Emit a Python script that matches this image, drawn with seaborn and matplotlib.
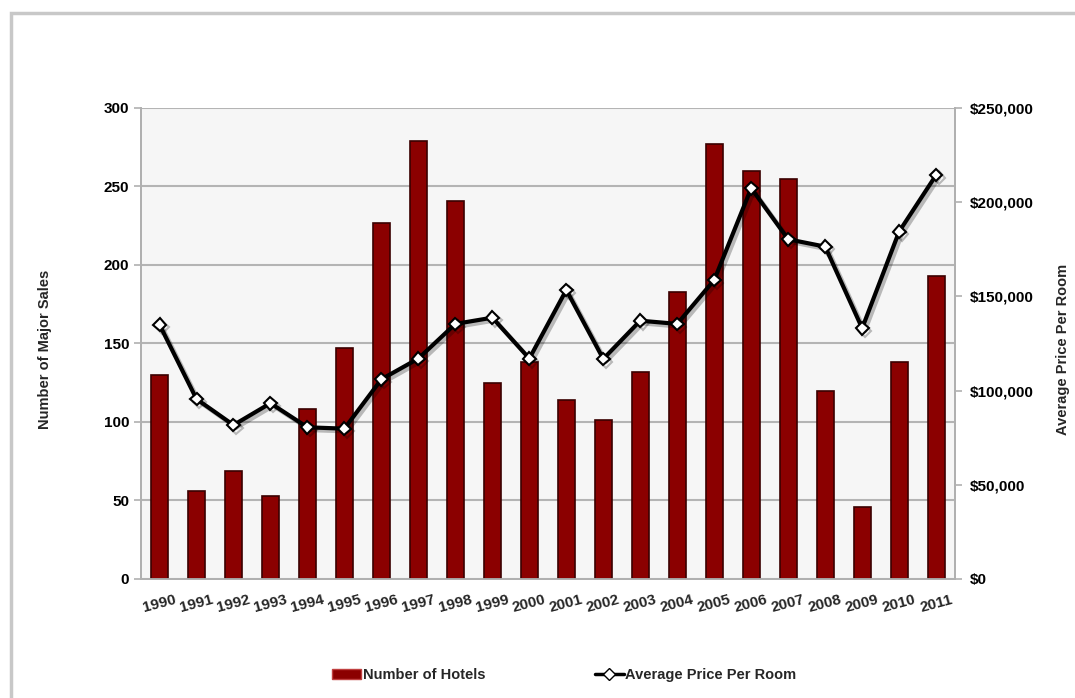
import matplotlib
matplotlib.use("Agg")
import matplotlib.pyplot as plt
import matplotlib.patheffects as pe
from matplotlib.patches import Rectangle, Patch
from matplotlib.lines import Line2D
from matplotlib.ticker import FuncFormatter, MultipleLocator
import pandas as pd
import seaborn as sns

# Data
years = [str(y) for y in range(1990, 2012)]
hotels = [130, 56, 69, 53, 108, 147, 227, 279, 241, 125, 138,
          114, 101, 132, 183, 277, 260, 255, 120, 46, 138, 193]
price_per_room = [135000, 95500, 81700, 93300, 80500, 79800, 106000, 117000,
                  135400, 138700, 117000, 153400, 116800, 137100, 135400,
                  158700, 207400, 180300, 176400, 133100, 184400, 214400]

df = pd.DataFrame({"year": years, "hotels": hotels, "price": price_per_room})

sns.set_style("white")
plt.rcParams["font.family"] = ["Liberation Sans Narrow", "Liberation Sans", "DejaVu Sans"]

fig = plt.figure(figsize=(10.75, 6.98), dpi=100)
ax = fig.add_axes([0.1312, 0.1705, 0.7568, 0.6748])

# light frame around the whole chart
fig.patches.append(Rectangle((0.0105, -0.05), 1.2, 1.031, transform=fig.transFigure,
                             fill=False, edgecolor="#c8c8c8", linewidth=2.5, zorder=0))

ax.set_facecolor("#f6f6f6")
sns.barplot(data=df, x="year", y="hotels", ax=ax, color="#8b0000", width=0.46,
            edgecolor="#3a0000", linewidth=1.2, saturation=1, zorder=3)
ax.set_ylim(0, 300)
ax.yaxis.set_major_locator(MultipleLocator(50))
ax.grid(axis="y", color="#b4b4b4", linewidth=1.5, zorder=0)
ax.set_axisbelow(True)
ax.set_xlim(-0.5, len(years) - 0.5)

ax2 = ax.twinx()
sns.pointplot(data=df, x="year", y="price", ax=ax2, color="black", markers="D",
              markersize=6.5, markerfacecolor="white", markeredgecolor="black",
              markeredgewidth=1.5, linewidth=3, zorder=5)
for ln in ax2.lines:
    ln.set_path_effects([pe.SimpleLineShadow(offset=(2, -2), alpha=0.25), pe.Normal()])
ax2.set_ylim(0, 250000)
ax2.yaxis.set_major_locator(MultipleLocator(50000))
ax2.yaxis.set_major_formatter(FuncFormatter(lambda v, p: f"${v:,.0f}"))
ax2.set_xlim(-0.5, len(years) - 0.5)

for a in (ax, ax2):
    for s in a.spines.values():
        s.set_color("#b0b0b0")
        s.set_linewidth(1.3)
    a.spines["top"].set_visible(False)
    a.set_xlabel("")
    a.set_ylabel("")

ax.tick_params(axis="y", colors="#b0b0b0", labelcolor="black", length=5, width=1.2,
               labelsize=11)
ax2.tick_params(axis="y", colors="#b0b0b0", labelcolor="black", length=5, width=1.2,
                labelsize=11, pad=6)
for lab in ax.get_yticklabels() + ax2.get_yticklabels():
    lab.set_fontweight("bold")

# x ticks between categories, labels centered on bars
ax.set_xticks([i + 0.5 for i in range(-1, len(years))], minor=True)
ax.tick_params(axis="x", which="minor", length=5, width=1.2, colors="#b0b0b0")
ax.tick_params(axis="x", which="major", length=0, pad=10)
ax.set_xticks(range(len(years)))
ax.set_xticklabels(years, rotation=15, fontsize=11, fontweight="bold", ha="center")

fig.text(0.042, 0.5, "Number of Major Sales", rotation=90, va="center", ha="center",
         fontsize=10.5, fontweight="bold")
fig.text(0.989, 0.5, "Average Price Per Room", rotation=90, va="center", ha="center",
         fontsize=10.5, fontweight="bold")

handles = [Patch(facecolor="#8b0000", edgecolor="#c04040", linewidth=1),
           Line2D([0], [0], color="black", linewidth=2.5, marker="D", markersize=6,
                  markerfacecolor="white", markeredgecolor="black")]
fig.legend(handles, ["Number of Hotels", "Average Price Per Room"], loc="center",
           bbox_to_anchor=(0.525, 0.033), ncol=2, frameon=False, columnspacing=7.5,
           handlelength=2.0, handletextpad=0.1,
           prop={"weight": "bold", "size": 10.5})

fig.savefig("out.png", dpi=100)
